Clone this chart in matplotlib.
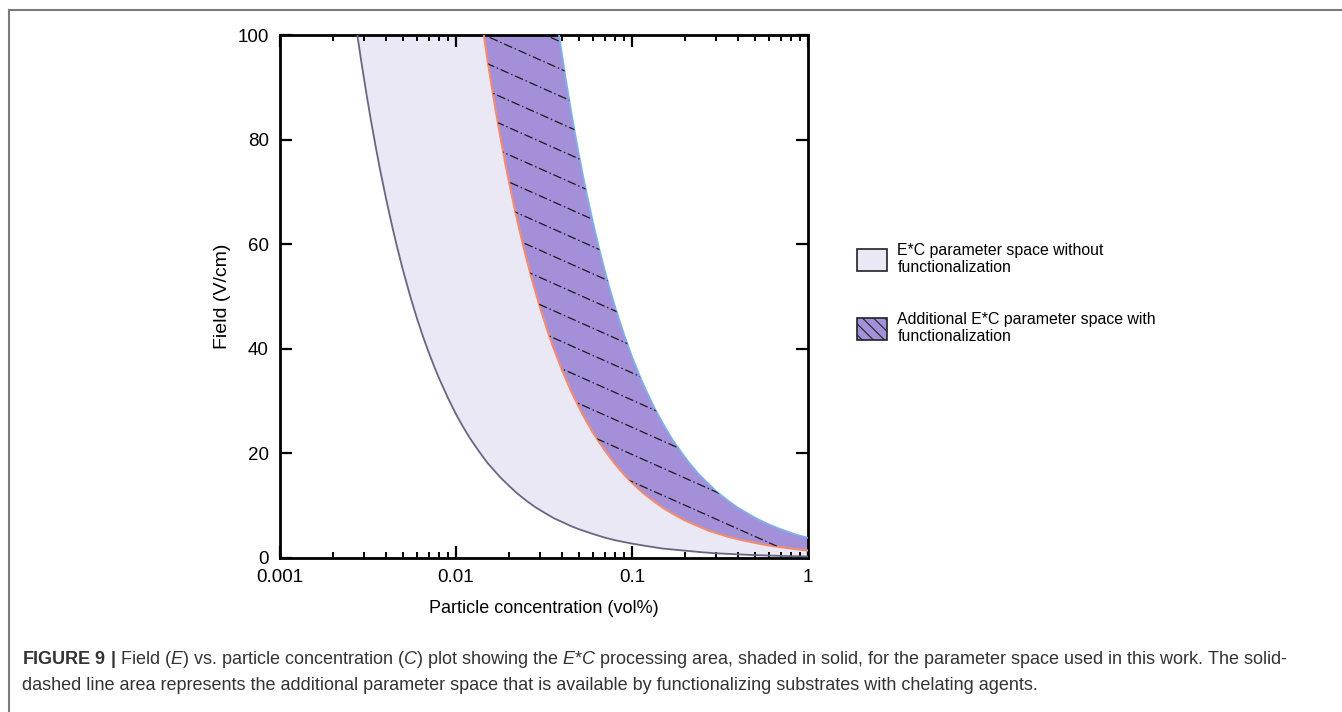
import matplotlib
matplotlib.use("Agg")
import matplotlib.pyplot as plt
from matplotlib.patches import Patch, Polygon
from matplotlib.lines import Line2D
import numpy as np

plt.rcParams['font.family'] = ['Liberation Sans', 'DejaVu Sans']
plt.rcParams['mathtext.fontset'] = 'custom'
plt.rcParams['mathtext.rm'] = 'Liberation Sans'
plt.rcParams['mathtext.it'] = 'Liberation Sans:italic'
plt.rcParams['mathtext.bf'] = 'Liberation Sans:bold'
plt.rcParams['hatch.linewidth'] = 0.8

# boundary curves: concentration (vol%) -> field (V/cm)
lower_c = [0.00275, 0.0029, 0.0031, 0.0033, 0.0035, 0.0037, 0.004, 0.0043, 0.0046,
           0.005, 0.0055, 0.006, 0.0065, 0.007, 0.0075, 0.008, 0.009, 0.01, 0.011,
           0.012, 0.0135, 0.015, 0.0165, 0.018, 0.02, 0.022, 0.025, 0.028, 0.032,
           0.036, 0.04, 0.045, 0.05, 0.06, 0.07, 0.08, 0.1, 0.12, 0.15, 0.2, 0.25,
           0.3, 0.4, 0.5, 0.7, 1.0]
lower_e = [100, 94.8, 88.7, 83.3, 78.6, 74.3, 68.8, 64.0, 59.8,
           55.0, 50.0, 45.8, 42.3, 39.3, 36.7, 34.4, 30.6, 27.5, 25.0,
           22.9, 20.4, 18.3, 16.7, 15.3, 13.8, 12.5, 11.0, 9.8, 8.6,
           7.6, 6.9, 6.1, 5.5, 4.6, 3.9, 3.4, 2.75, 2.3, 1.8, 1.4, 1.1,
           0.9, 0.7, 0.55, 0.4, 0.28]

mid_c = [0.0144, 0.0152, 0.016, 0.017, 0.018, 0.019, 0.02, 0.0215, 0.023, 0.025,
         0.027, 0.03, 0.033, 0.036, 0.04, 0.045, 0.05, 0.055, 0.06, 0.065, 0.07,
         0.08, 0.09, 0.1, 0.11, 0.12, 0.135, 0.15, 0.17, 0.2, 0.23, 0.27, 0.3,
         0.35, 0.4, 0.5, 0.6, 0.7, 0.85, 1.0]
mid_e = [100, 94.7, 90, 84.7, 80, 75.8, 72, 67.0, 62.6, 57.6,
         53.3, 48, 43.6, 40, 36, 32, 28.8, 26.2, 24, 22.2, 20.6,
         18, 16, 14.4, 13.1, 12, 10.7, 9.6, 8.5, 7.2, 6.3, 5.3, 4.8,
         4.1, 3.6, 2.9, 2.4, 2.1, 1.7, 1.44]

top_c = [0.0385, 0.0405, 0.0425, 0.045, 0.0475, 0.05, 0.053, 0.056, 0.06, 0.065,
         0.07, 0.075, 0.08, 0.09, 0.1, 0.11, 0.12, 0.135, 0.15, 0.17, 0.19, 0.21,
         0.24, 0.27, 0.3, 0.35, 0.4, 0.5, 0.6, 0.7, 0.85, 1.0]
top_e = [100, 95.1, 90.6, 85.6, 81.1, 77, 72.6, 68.8, 64.2, 59.2,
         55, 51.3, 48.1, 42.8, 38.5, 35, 32.1, 28.5, 25.7, 22.6, 20.3, 18.3,
         16.0, 14.3, 12.8, 11.0, 9.6, 7.7, 6.4, 5.5, 4.5, 3.85]

xtick_vals = [0.001, 0.01, 0.1, 1]
xtick_labels = ['0.001', '0.01', '0.1', '1']
ytick_vals = [0, 20, 40, 60, 80, 100]

legend_labels = ['E*C parameter space without\nfunctionalization',
                 'Additional E*C parameter space with\nfunctionalization']

light_col = '#EAE8F5'
purple_col = '#A490D8'

fig = plt.figure(figsize=(13.42, 7.12), dpi=100)
ax = fig.add_axes([280/1342, 1-558/712, 528/1342, 523/712])
ax.set_xscale('log')
ax.set_xlim(0.001, 1)
ax.set_ylim(0, 100)

# solid region (without functionalization)
light_poly = np.column_stack([lower_c + mid_c[::-1], lower_e + mid_e[::-1]])
ax.add_patch(Polygon(light_poly, closed=True, facecolor=light_col, edgecolor='none', zorder=1))

# additional region (with functionalization)
purple_poly = Polygon(np.column_stack([mid_c + top_c[::-1], mid_e + top_e[::-1]]),
                      closed=True, facecolor=purple_col, edgecolor='none', zorder=2)
ax.add_patch(purple_poly)

ax.plot(lower_c, lower_e, color='#6A6585', lw=1.3, zorder=3)
ax.plot(mid_c, mid_e, color='#F08C74', lw=1.6, zorder=3)
ax.plot(top_c, top_e, color='#7DB0EC', lw=1.3, zorder=3)

# dash-dot hatching inside the purple band
slope = -0.45
for b in np.arange(0.03, 1.6, 0.052):
    xs = np.array([0.0, 1.0])
    ln, = ax.plot(xs, b + slope * xs, transform=ax.transAxes, color='#1A1A1A',
                  lw=0.9, dashes=(7, 2.2, 1.2, 2.2), zorder=4)
    ln.set_clip_path(purple_poly)

ax.set_xticks(xtick_vals)
ax.set_xticklabels(xtick_labels)
ax.set_yticks(ytick_vals)
ax.tick_params(which='major', direction='in', length=8.5, width=1.6,
               top=True, right=True, labelsize=13.5, pad=8)
ax.tick_params(which='minor', direction='in', length=4.3, width=1.4,
               top=True, right=True)
ax.tick_params(axis='y', which='minor', left=False, right=False)
for s in ax.spines.values():
    s.set_linewidth(2.0)

ax.set_xlabel('Particle concentration (vol%)', fontsize=13, labelpad=10)
ax.set_ylabel('Field (V/cm)', fontsize=14, labelpad=5)

handles = [Patch(facecolor=light_col, edgecolor='#222222', linewidth=1.2),
           Patch(facecolor=purple_col, edgecolor='#222222', linewidth=1.2, hatch='\\\\\\')]
fig.legend(handles, legend_labels, loc='upper left',
           bbox_to_anchor=(857/1342, 1-243/712), frameon=False, fontsize=11.4,
           handlelength=1.9, handleheight=1.8, handletextpad=0.65,
           labelspacing=2.3, borderpad=0, borderaxespad=0)

# frame around the figure panel
fig.add_artist(Line2D([9/1342, 1], [1-10/712, 1-10/712], color='#7A7A7A', lw=1.5))
fig.add_artist(Line2D([9/1342, 9/1342], [0, 1-10/712], color='#7A7A7A', lw=1.5))

cap1 = (r'$\mathbf{FIGURE\ 9\ |}$ Field ($\mathit{E}$) vs. particle concentration ($\mathit{C}$) '
        r'plot showing the $\mathit{E}$*$\mathit{C}$ processing area, shaded in solid, for the '
        r'parameter space used in this work. The solid-')
cap2 = ('dashed line area represents the additional parameter space that is available by '
        'functionalizing substrates with chelating agents.')
fig.text(22/1342, 1-659/712, cap1, fontsize=13.0, color='#333333', va='center', ha='left')
fig.text(22/1342, 1-685/712, cap2, fontsize=13.0, color='#333333', va='center', ha='left')

fig.savefig('out.png', dpi=100)
